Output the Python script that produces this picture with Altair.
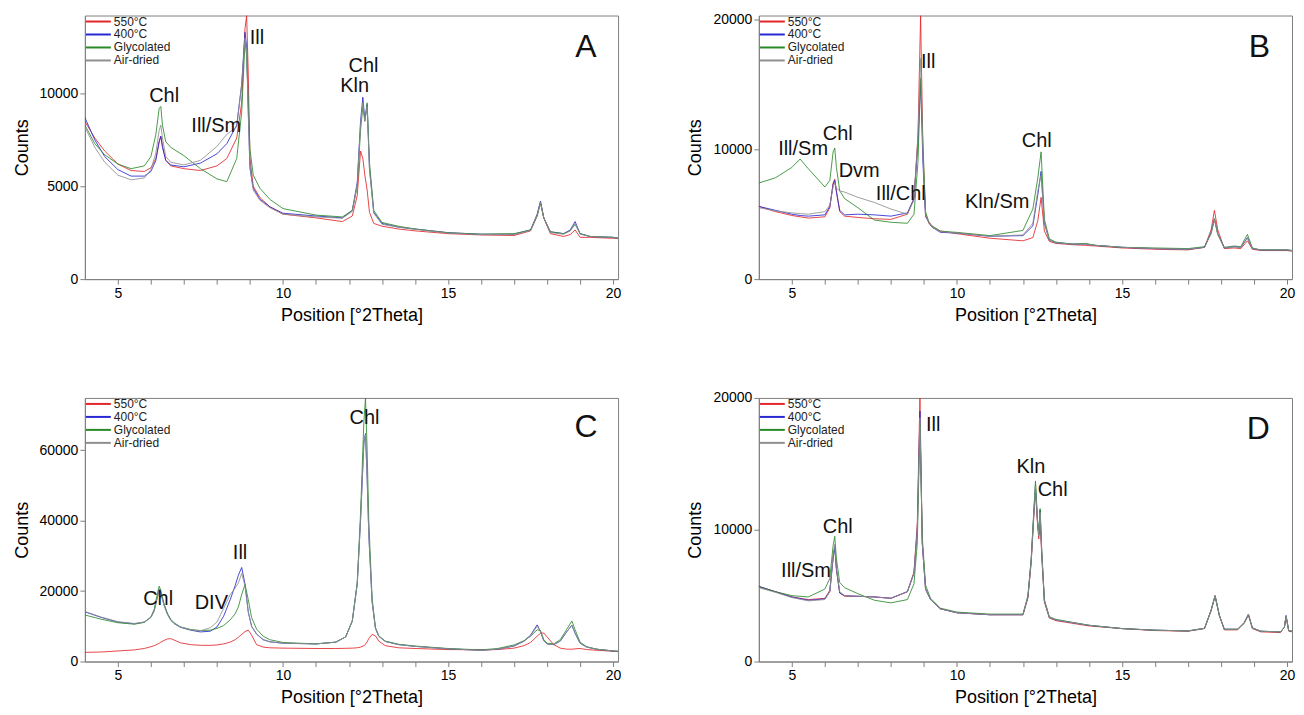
import altair as alt
import pandas as pd

FONT = "Liberation Sans"
SERIES = ["550°C", "400°C", "Glycolated", "Air-dried"]
COLORS = ["#e3262a", "#2828d2", "#2a8a2a", "#8f8f8f"]

# ---------------- Panel A ----------------
A_X = [4.0, 4.3, 4.6, 5.0, 5.4, 5.8, 6.0, 6.15, 6.25, 6.3, 6.35, 6.45, 6.6, 7.0, 7.5, 8.0, 8.3, 8.6,
       8.75, 8.85, 8.9, 8.95, 9.0, 9.1, 9.3, 9.6, 10.0, 11.0, 11.8, 12.1, 12.25, 12.35, 12.42, 12.48,
       12.55, 12.62, 12.75, 13.0, 13.5, 14.0, 15.0, 16.0, 17.0, 17.5, 17.7, 17.8, 17.9, 18.1, 18.5,
       18.7, 18.85, 19.0, 19.3, 20.0, 20.15]
A_550 = [8500, 7600, 6900, 6200, 5850, 5800, 6000, 6500, 7400, 7700, 7200, 6400, 6100, 5950, 5850, 6100,
         6500, 7600, 9500, 13500, 14200, 11000, 6500, 5000, 4400, 3900, 3500, 3300, 3100, 3400, 4500,
         6900, 6500, 5600, 4800, 3600, 3000, 2850, 2700, 2600, 2450, 2380, 2350, 2600, 3400, 4150, 3300,
         2450, 2300, 2400, 2650, 2250, 2250, 2200, 2200]
A_400 = [8700, 7500, 6600, 5900, 5550, 5550, 5800, 6400, 7400, 7700, 7100, 6400, 6150, 6050, 6250, 6750,
         7300, 8300, 10500, 13300, 12500, 9000, 6000, 4900, 4300, 3900, 3550, 3400, 3300, 3700, 5200,
         8500, 9800, 8600, 9400, 6000, 3600, 3000, 2800, 2700, 2500, 2420, 2420, 2650, 3500, 4200, 3300,
         2550, 2450, 2650, 3100, 2450, 2300, 2250, 2200]
A_GLY = [8300, 7300, 6700, 6200, 5950, 6100, 6600, 7800, 9200, 9300, 8300, 7400, 7100, 6650, 5950, 5400,
         5250, 6500, 9000, 12800, 12000, 9500, 7000, 5600, 4900, 4300, 3800, 3450, 3350, 3700, 5000,
         8000, 9300, 8500, 9500, 6300, 3700, 3050, 2850, 2700, 2500, 2420, 2450, 2650, 3400, 4100, 3300,
         2550, 2450, 2600, 2950, 2450, 2300, 2250, 2200]
A_AIR = [8200, 7100, 6300, 5600, 5350, 5450, 5900, 6800, 8000, 8300, 7600, 6600, 6300, 6150, 6400, 7150,
         7800, 8200, 10500, 13000, 12300, 8800, 6000, 4800, 4250, 3850, 3500, 3350, 3280, 3650, 5100,
         8300, 9500, 8500, 9300, 5900, 3550, 2950, 2800, 2680, 2480, 2400, 2400, 2620, 3450, 4150, 3300,
         2500, 2420, 2600, 3000, 2420, 2300, 2250, 2200]
A_LAB = ["Chl", "Ill/Sm", "Ill", "Chl", "Kln"]
A_LX = [6.4, 7.98, 9.21, 12.44, 12.17]
A_LY = [9840, 8240, 13000, 11500, 10380]

# ---------------- Panel B ----------------
B_X = [4.0, 4.5, 5.0, 5.25, 5.5, 6.0, 6.15, 6.25, 6.3, 6.35, 6.45, 6.6, 7.0, 7.5, 8.0, 8.5, 8.7, 8.82,
       8.9, 8.97, 9.05, 9.15, 9.25, 9.5, 10.0, 11.0, 12.0, 12.3, 12.45, 12.55, 12.65, 12.8, 13.0, 13.5,
       13.9, 14.2, 15.0, 16.0, 17.0, 17.5, 17.7, 17.8, 17.9, 18.1, 18.4, 18.6, 18.8, 18.95, 19.2, 20.0,
       20.15]
B_550 = [5600, 5200, 4900, 4800, 4700, 4800, 5500, 7400, 7700, 6800, 5200, 4850, 4750, 4650, 4600, 5000,
         6200, 11000, 20300, 10000, 5000, 4300, 4000, 3700, 3500, 3150, 2950, 3200, 4500, 6300, 3700,
         2900, 2750, 2650, 2600, 2550, 2400, 2300, 2250, 2450, 3800, 5300, 3800, 2350, 2400, 2350, 2950,
         2300, 2200, 2200, 2150]
B_400 = [5600, 5300, 5000, 4900, 4850, 4950, 5600, 7300, 7600, 6700, 5300, 4950, 5000, 4950, 4850, 5100,
         6200, 10500, 15300, 9000, 4800, 4400, 4000, 3600, 3550, 3300, 3350, 4100, 6500, 8300, 4300,
         3000, 2800, 2700, 2700, 2600, 2450, 2350, 2300, 2450, 3600, 4650, 3500, 2400, 2500, 2450, 3200,
         2350, 2250, 2250, 2200]
B_GLY = [7400, 7800, 8600, 9250, 8500, 7100, 7600, 9800, 10100, 8600, 6800, 6200, 5500, 4550, 4380, 4300,
         5000, 9000, 15500, 10500, 5200, 4400, 4100, 3700, 3600, 3350, 3750, 5400, 7800, 9800, 4600,
         3100, 2850, 2700, 2750, 2600, 2450, 2400, 2350, 2500, 3500, 4650, 3450, 2450, 2550, 2500, 3450,
         2400, 2250, 2250, 2200]
B_AIR = [5500, 5250, 5100, 5050, 5000, 5200, 5700, 7100, 7400, 7000, 6800, 6700, 6300, 5900, 5400, 5000,
         6100, 11000, 17000, 9500, 4900, 4400, 4000, 3650, 3550, 3300, 3400, 4300, 6800, 8000, 4300,
         3000, 2800, 2700, 2700, 2600, 2450, 2350, 2300, 2450, 3550, 4600, 3450, 2400, 2480, 2450, 3150,
         2350, 2250, 2250, 2200]
B_LAB = ["Ill/Sm", "Chl", "Dvm", "Ill/Chl", "Ill", "Kln/Sm", "Chl"]
B_LX = [5.34, 6.39, 7.04, 8.3, 9.13, 11.22, 12.42]
B_LY = [10000, 11200, 8320, 6560, 16700, 5950, 10600]

# ---------------- Panel C ----------------
C_X = [4.0, 4.5, 5.0, 5.5, 5.8, 6.0, 6.1, 6.2, 6.25, 6.3, 6.4, 6.5, 6.6, 6.7, 6.9, 7.2, 7.5, 7.8, 8.0,
       8.2, 8.4, 8.55, 8.65, 8.75, 8.85, 8.95, 9.05, 9.2, 9.4, 9.6, 10.0, 11.0, 11.6, 11.9, 12.1, 12.25,
       12.35, 12.45, 12.5, 12.55, 12.6, 12.7, 12.8, 12.9, 13.1, 13.5, 14.0, 15.0, 16.0, 16.5, 17.0,
       17.3, 17.5, 17.7, 17.8, 17.9, 18.0, 18.2, 18.4, 18.6, 18.75, 18.85, 19.0, 19.2, 19.5, 20.0, 20.15]
C_550 = [2600, 2700, 3000, 3300, 3700, 4200, 4500, 4900, 5200, 5500, 6000, 6400, 6500, 6100, 5300, 4800,
         4600, 4600, 4700, 5000, 5500, 6200, 6900, 7700, 8500, 8900, 7500, 4800, 4100, 3900, 3800, 3700,
         3700, 3750, 3800, 3900, 4100, 4500, 4900, 5600, 6500, 7700, 7300, 5800, 4500, 3900, 3700, 3400,
         3300, 3400, 3800, 4500, 5400, 7200, 8000, 8100, 7000, 4800, 3800, 3500, 3500, 3600, 3700, 3400,
         3200, 2900, 2800]
C_400 = [14100, 12500, 11200, 10700, 11200, 12600, 14500, 18500, 20500, 19500, 16000, 13500, 11800, 10800,
         9700, 8900, 8400, 8600, 9800, 12800, 17500, 21500, 24500, 26700, 22000, 14000, 10000, 7800, 6200,
         5600, 5200, 5000, 5500, 7000, 11500, 22000, 40000, 62000, 64700, 52000, 36000, 17000, 9500, 7200,
         5700, 4800, 4300, 3600, 3200, 3500, 4400, 5800, 7500, 10400, 8500, 5900, 5000, 4800, 5800, 8500,
         10300, 8000, 5200, 4100, 3500, 3000, 2900]
C_GLY = [13200, 12000, 11000, 10600, 11100, 12600, 14800, 19500, 21400, 20200, 16300, 13700, 12000, 11000,
         9800, 9100, 8800, 8900, 9400, 10200, 11800, 13500, 15500, 19000, 21900, 17500, 12500, 9200, 7200,
         6200, 5400, 5000, 5500, 7000, 11500, 22500, 42000, 68000, 74800, 60000, 40000, 18000, 9700, 7300,
         5800, 4900, 4400, 3700, 3300, 3700, 4700, 5900, 7200, 9000, 8800, 6200, 5200, 5000, 6200, 9200,
         11500, 9000, 5500, 4200, 3500, 3000, 2900]
C_AIR = [14200, 12600, 11300, 10800, 11200, 12500, 14300, 18200, 20200, 19300, 15800, 13400, 11800, 10800,
         9800, 9000, 8700, 9600, 11200, 15000, 19000, 20800, 22300, 25000, 21500, 14000, 10000, 7800, 6200,
         5600, 5200, 5000, 5500, 7000, 11500, 22000, 40000, 62000, 64500, 52000, 36000, 17000, 9500, 7200,
         5700, 4800, 4300, 3600, 3200, 3500, 4400, 5700, 7300, 10000, 8500, 5900, 5000, 4800, 5800, 8500,
         10300, 8000, 5200, 4100, 3500, 3000, 2900]
C_LAB = ["Chl", "DIV", "Ill", "Chl"]
C_LX = [6.22, 7.83, 8.7, 12.47]
C_LY = [17800, 16700, 30800, 69000]

# ---------------- Panel D ----------------
D_X = [4.0, 4.5, 5.0, 5.5, 6.0, 6.15, 6.25, 6.3, 6.35, 6.45, 6.6, 7.0, 7.5, 8.0, 8.5, 8.7, 8.8, 8.88,
       8.95, 9.05, 9.2, 9.5, 10.0, 11.0, 12.0, 12.15, 12.25, 12.33, 12.38, 12.44, 12.48, 12.52, 12.57,
       12.65, 12.8, 13.0, 14.0, 15.0, 16.0, 17.0, 17.5, 17.7, 17.82, 17.95, 18.1, 18.5, 18.7, 18.83,
       18.95, 19.2, 19.8, 19.92, 19.97, 20.05, 20.15]
D_550 = [5700, 5300, 4900, 4700, 4800, 5400, 8000, 8700, 7000, 5200, 4950, 4950, 4900, 4800, 5300, 6800,
         10500, 20000, 9000, 5500, 4700, 4000, 3700, 3550, 3550, 4800, 7500, 11000, 12900, 10500, 9300,
         10600, 8000, 4500, 3300, 3100, 2700, 2500, 2350, 2300, 2500, 3900, 5000, 3500, 2400, 2400, 2900,
         3500, 2500, 2250, 2200, 2600, 3400, 2300, 2250]
D_400 = [5700, 5300, 4900, 4650, 4750, 5300, 7800, 8700, 7000, 5200, 5000, 4950, 4900, 4800, 5300, 6700,
         10000, 19000, 9000, 5500, 4700, 4000, 3700, 3550, 3550, 4900, 7700, 11300, 13400, 10700, 9600,
         11500, 8300, 4600, 3350, 3150, 2750, 2500, 2380, 2320, 2520, 3900, 5000, 3500, 2450, 2450, 2950,
         3600, 2550, 2300, 2250, 2600, 3500, 2350, 2300]
D_GLY = [5650, 5300, 5000, 4900, 5500, 6300, 8800, 9500, 7800, 6000, 5600, 5150, 4650, 4450, 4700, 5900,
         9000, 18000, 9500, 5800, 4800, 4050, 3750, 3600, 3600, 5000, 7800, 11500, 13700, 10800, 9700,
         11600, 8400, 4700, 3400, 3200, 2750, 2500, 2380, 2320, 2520, 3850, 4950, 3450, 2450, 2450, 2900,
         3550, 2550, 2300, 2250, 2600, 3450, 2350, 2300]
D_AIR = [5600, 5250, 4850, 4600, 4700, 5300, 8000, 8900, 7100, 5300, 5000, 4950, 4900, 4800, 5300, 6700,
         10000, 18500, 9000, 5500, 4700, 4000, 3700, 3550, 3550, 4900, 7600, 11200, 13300, 10600, 9500,
         11300, 8200, 4600, 3350, 3150, 2750, 2500, 2380, 2320, 2520, 3880, 5000, 3500, 2450, 2450, 2950,
         3580, 2550, 2300, 2250, 2600, 3450, 2350, 2300]
D_LAB = ["Ill/Sm", "Chl", "Ill", "Kln", "Chl"]
D_LX = [5.43, 6.39, 9.28, 12.24, 12.9]
D_LY = [6840, 10230, 17970, 14740, 13000]

PANELS = [
    ("A", A_X, [A_550, A_400, A_GLY, A_AIR], 14200, [0, 5000, 10000], A_LAB, A_LX, A_LY, 19.18, 12520),
    ("B", B_X, [B_550, B_400, B_GLY, B_AIR], 20300, [0, 10000, 20000], B_LAB, B_LX, B_LY, 19.16, 17850),
    ("C", C_X, [C_550, C_400, C_GLY, C_AIR], 74800, [0, 20000, 40000, 60000], C_LAB, C_LX, C_LY, 19.18, 66500),
    ("D", D_X, [D_550, D_400, D_GLY, D_AIR], 20000, [0, 10000, 20000], D_LAB, D_LX, D_LY, 19.13, 17620),
]

W, H = 534, 264


def panel(letter, xs, ys_list, ymax, yvals, labs, lx, ly, letx, lety):
    rows = []
    for name, ys in zip(SERIES, ys_list):
        for xv, yv in zip(xs, ys):
            rows.append({"x": xv, "y": yv, "series": name})
    df = pd.DataFrame(rows)
    xenc = alt.X("x:Q", scale=alt.Scale(domain=[4, 20.15], nice=False, zero=False),
                 axis=alt.Axis(values=list(range(5, 21)), title="Position [°2Theta]",
                               labelExpr="datum.value % 5 === 0 ? datum.label : ''"))
    yenc = alt.Y("y:Q", scale=alt.Scale(domain=[0, ymax], nice=False),
                 axis=alt.Axis(values=yvals, title="Counts", format="d"))
    lines = alt.Chart(df).mark_line(strokeWidth=1, opacity=0.85, clip=True).encode(
        x=xenc, y=yenc,
        color=alt.Color("series:N", scale=alt.Scale(domain=SERIES, range=COLORS),
                        sort=SERIES,
                        legend=alt.Legend(title=None, orient="top-left", offset=0, padding=0,
                                          symbolType="M-1,0H4", symbolSize=100,
                                          symbolStrokeWidth=2, symbolOpacity=1,
                                          labelFontSize=12, labelFont=FONT, labelColor="#222",
                                          rowPadding=1, labelOffset=17)),
    )
    ldf = pd.DataFrame({"x": lx, "y": ly, "t": labs})
    texts = alt.Chart(ldf).mark_text(fontSize=20, font=FONT, color="#111").encode(
        x=xenc, y=yenc, text="t:N")
    tdf = pd.DataFrame({"x": [letx], "y": [lety], "t": [letter]})
    let = alt.Chart(tdf).mark_text(fontSize=32, font=FONT, color="#111").encode(
        x=xenc, y=yenc, text="t:N")
    return alt.layer(lines, texts, let).properties(width=W, height=H)


charts = [panel(*p) for p in PANELS]
top = alt.hconcat(charts[0], charts[1], spacing=64).resolve_scale(color="independent")
bot = alt.hconcat(charts[2], charts[3], spacing=64).resolve_scale(color="independent")
chart = alt.vconcat(top, bot, spacing=65).resolve_scale(color="independent").configure(
    padding={"left": 4, "top": 3, "right": 0, "bottom": 0}
).configure_view(stroke="#808080", strokeWidth=1).configure_axis(
    grid=False, domainColor="#808080", tickColor="#808080", labelFont=FONT, titleFont=FONT,
    labelFontSize=14, titleFontSize=18, titleFontWeight="normal", labelColor="#000",
    titleColor="#000", tickSize=5
).configure_axisY(titlePadding=8).configure_axisX(titlePadding=6, labelPadding=2)

chart.save("out.html", embed_options={"renderer": "svg", "actions": False})
